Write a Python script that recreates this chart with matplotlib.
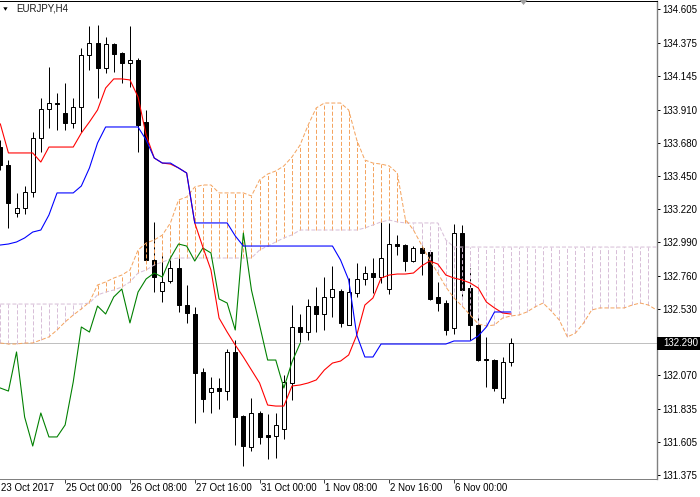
import matplotlib
matplotlib.use("Agg")
import matplotlib.pyplot as plt
from matplotlib.patches import Rectangle, Polygon

plt.rcParams['font.family'] = ['Liberation Sans', 'DejaVu Sans']
plt.rcParams['lines.scale_dashes'] = False

symbol = "EURJPY,H4"

opens = [133.651, 133.527, 133.196, 133.229, 133.339, 133.714, 133.915, 133.949, 133.887, 133.818,
         133.928, 134.289, 134.372, 134.199, 134.365, 134.303, 134.233, 134.254, 133.825, 132.868,
         132.653, 132.723, 132.813, 132.556, 132.494, 132.092, 131.953, 131.981, 131.960, 132.231,
         131.787, 131.572, 131.808, 131.655, 131.649, 131.697, 132.016, 132.404, 132.369, 132.549,
         132.494, 132.612, 132.653, 132.418, 132.640, 132.737, 132.778, 132.750, 132.667, 132.979,
         132.972, 132.861, 132.951, 132.924, 132.612, 132.570, 132.397, 133.055, 132.674, 132.418,
         132.182, 132.175, 131.912, 132.161]
highs = [133.700, 133.561, 133.333, 133.381, 133.755, 133.991, 134.206, 134.026, 134.095, 133.991,
         134.337, 134.490, 134.497, 134.414, 134.372, 134.310, 134.490, 134.268, 133.908, 133.132,
         132.917, 132.868, 132.882, 132.695, 132.542, 132.120, 132.057, 132.050, 132.251, 132.314,
         131.794, 131.912, 131.822, 131.801, 131.808, 132.071, 132.556, 132.494, 132.598, 132.681,
         132.750, 132.827, 132.667, 132.743, 132.847, 132.827, 132.882, 133.132, 133.125, 133.041,
         132.979, 132.965, 132.972, 132.937, 132.716, 132.591, 133.118, 133.111, 132.813, 132.473,
         132.335, 132.182, 132.196, 132.328]
lows = [133.492, 133.090, 133.166, 133.187, 133.305, 133.617, 133.783, 133.769, 133.769, 133.783,
        133.755, 134.185, 133.991, 134.164, 134.171, 134.095, 134.067, 133.617, 132.854, 132.646,
        132.577, 132.709, 132.508, 132.432, 131.739, 131.815, 131.808, 131.836, 131.898, 131.586,
        131.441, 131.545, 131.593, 131.489, 131.496, 131.628, 131.898, 132.300, 132.314, 132.369,
        132.383, 132.473, 132.404, 132.418, 132.612, 132.695, 132.640, 132.709, 132.633, 132.903,
        132.792, 132.854, 132.764, 132.591, 132.515, 132.348, 132.355, 132.612, 132.314, 132.168,
        131.988, 131.960, 131.877, 132.134]
closes = [133.527, 133.263, 133.231, 133.339, 133.714, 133.915, 133.956, 133.946, 133.818, 133.928,
          134.289, 134.372, 134.199, 134.365, 134.296, 134.233, 134.254, 133.804, 132.868, 132.750,
          132.716, 132.813, 132.556, 132.501, 132.085, 131.905, 131.981, 131.960, 132.231, 131.780,
          131.579, 131.808, 131.642, 131.642, 131.725, 132.023, 132.404, 132.369, 132.549, 132.494,
          132.612, 132.667, 132.432, 132.646, 132.737, 132.778, 132.750, 132.882, 132.979, 132.965,
          132.861, 132.951, 132.917, 132.598, 132.570, 132.383, 133.055, 132.660, 132.418, 132.175,
          132.175, 131.981, 132.161, 132.290]

tenkan = [133.811, 133.610, 133.610, 133.610, 133.610, 133.547, 133.651, 133.651, 133.651, 133.651,
          133.748, 133.825, 133.908, 134.060, 134.123, 134.123, 134.116, 133.998, 133.734, 133.575,
          133.540, 133.533, 133.506, 133.471, 133.125, 132.958, 132.799, 132.466, 132.369, 132.279,
          132.196, 132.106, 132.016, 131.863, 131.856, 131.856, 131.995, 132.002, 132.016, 132.037,
          132.106, 132.154, 132.168, 132.210, 132.348, 132.556, 132.605, 132.743, 132.764, 132.771,
          132.771, 132.778, 132.827, 132.861, 132.840, 132.764, 132.743, 132.730, 132.709, 132.674,
          132.577, 132.536, 132.501, 132.494]
kijun = [132.972, 132.979, 132.993, 133.021, 133.062, 133.076, 133.180, 133.333, 133.333, 133.333,
         133.381, 133.506, 133.679, 133.790, 133.790, 133.790, 133.790, 133.790, 133.700, 133.575,
         133.540, 133.540, 133.506, 133.471, 133.125, 133.125, 133.125, 133.125, 133.125, 133.035,
         132.965, 132.965, 132.965, 132.965, 132.965, 132.965, 132.965, 132.965, 132.965, 132.965,
         132.965, 132.965, 132.868, 132.730, 132.348, 132.196, 132.196, 132.286, 132.286, 132.286,
         132.286, 132.286, 132.286, 132.286, 132.286, 132.286, 132.307, 132.307, 132.307, 132.342,
         132.404, 132.508, 132.508, 132.508]
span_a = [132.293, 132.286, 132.286, 132.293, 132.293, 132.314, 132.335, 132.383, 132.439, 132.487,
          132.529, 132.577, 132.695, 132.716, 132.743, 132.764, 132.799, 132.937, 132.986, 133.007,
          133.041, 133.125, 133.284, 133.305, 133.374, 133.388, 133.388, 133.333, 133.333, 133.333,
          133.333, 133.312, 133.423, 133.464, 133.485, 133.520, 133.582, 133.665, 133.804, 133.922,
          133.956, 133.956, 133.956, 133.908, 133.700, 133.561, 133.540, 133.533, 133.520, 133.471,
          133.150, 133.076, 132.972, 132.868, 132.778, 132.681, 132.605, 132.549, 132.487, 132.425,
          132.411, 132.418, 132.466, 132.480, 132.487, 132.508, 132.543, 132.570, 132.515, 132.452,
          132.335, 132.362, 132.432, 132.522, 132.536, 132.536, 132.536, 132.536, 132.556, 132.570,
          132.556, 132.522]
span_b = [132.563] * 11 + [
          132.570, 132.626, 132.646, 132.660, 132.681, 132.716, 132.778, 132.799, 132.834, 132.854,
          132.875] + [132.882] * 10 + [
          132.937, 132.965, 132.993, 133.021, 133.042] + [133.076] * 8 + [
          133.090, 133.111, 133.132, 133.145, 133.132] + [133.125] * 5 + [133.007] + [132.958] * 26

date_pos = [0, 8, 16, 24, 32, 40, 48, 56]
date_labels = ["23 Oct 2017", "25 Oct 00:00", "26 Oct 08:00", "27 Oct 16:00",
               "31 Oct 00:00", "1 Nov 08:00", "2 Nov 16:00", "6 Nov 00:00"]
price_ticks = [134.605, 134.375, 134.145, 133.910, 133.680, 133.450, 133.220, 132.990,
               132.760, 132.530, 132.070, 131.835, 131.605, 131.375]

W, H = 700, 497
PX = 0.72  # one pixel in points at dpi 100
fig = plt.figure(figsize=(W / 100, H / 100), dpi=100)
ax = fig.add_axes([0, (H - 478.5) / H, 656.5 / W, 478 / H])
ax.set_xlim(-0.04, 81.0)
ax.set_ylim(131.354, 134.6665)

SB = '#F4A460'
TH = '#D8BFD8'
dash = (0, (2.9, 1.45))

# bid line
ax.axhline(closes[-1], color='#C0C0C0', lw=PX, zorder=1)

# candles
n = len(opens)
for i in range(n):
    o, h, l, c = opens[i], highs[i], lows[i], closes[i]
    wl = ax.vlines(i, l, h, colors='black', lw=PX, zorder=2)
    wl.set_snap(True)
    bottom = min(o, c)
    height = max(abs(c - o), 1 / 144.3)
    bull = c >= o
    r = Rectangle((i - 0.25, bottom), 0.5, height,
                  facecolor='white' if bull else 'black',
                  edgecolor='black', lw=PX, zorder=3)
    r.set_snap(True)
    ax.add_patch(r)

# cloud
m = len(span_a)
for i in range(m):
    a, b = span_a[i], span_b[i]
    col = SB if a > b else TH
    vl = ax.vlines(i, min(a, b), max(a, b), colors=col, linestyles=dash, lw=PX, zorder=4)
    vl.set_snap(True)
ax.plot(range(m), span_b, color=TH, ls=dash, lw=PX, zorder=4)
ax.plot(range(m), span_a, color=SB, ls=dash, lw=PX, zorder=4)

# chikou (close shifted 26 back)
shift = 26
ax.plot(range(n - shift), closes[shift:], color='#008000', lw=PX * 1.1, zorder=5)
ax.plot(range(n), tenkan, color='#FF0000', lw=PX * 1.1, zorder=5)
ax.plot(range(n), kijun, color='#0000FF', lw=PX * 1.1, zorder=6)

# axes styling
ax.spines['left'].set_visible(False)
ax.spines['top'].set_color('black')
ax.spines['top'].set_linewidth(PX)
ax.spines['right'].set_color('#808080')
ax.spines['right'].set_linewidth(1.0)
ax.spines['bottom'].set_color('#808080')
ax.spines['bottom'].set_linewidth(PX)

ax.yaxis.tick_right()
ax.set_yticks(price_ticks)
ax.set_yticklabels([f"{v:.3f}" for v in price_ticks])
ax.tick_params(axis='y', direction='out', length=2.3, width=PX, colors='black',
               pad=2.2, labelsize=7)
ax.set_xticks(date_pos[1:])
ax.set_xticklabels([])
ax.tick_params(axis='x', direction='out', length=2.9, width=PX, colors='#404040')
for p, lab in zip(date_pos, date_labels):
    ax.text(p + 0.12, -0.0262, lab, transform=ax.get_xaxis_transform(),
            ha='left', va='baseline', fontsize=7, color='black', clip_on=False)

# current price label
fig.patches.append(Rectangle((657 / W, 1 - 350 / H), 43 / W, 13 / H,
                             transform=fig.transFigure, facecolor='black',
                             edgecolor='none', zorder=10))
fig.text(663 / W, 1 - 343.3 / H, f"{closes[-1]:.3f}", color='white', fontsize=7,
         va='center', ha='left', zorder=11)

# title and markers
fig.text(16 / W, 1 - 8.7 / H, symbol, fontsize=7, color='#1a1a1a', va='center', ha='left')
fig.patches.append(Polygon([(3.3 / W, 1 - 7.3 / H), (7.6 / W, 1 - 7.3 / H), (5.45 / W, 1 - 10.8 / H)],
                           closed=True, transform=fig.transFigure, facecolor='black',
                           edgecolor='none'))
fig.patches.append(Polygon([(519.5 / W, 1.0), (527.5 / W, 1.0), (523.5 / W, 1 - 5 / H)],
                           closed=True, transform=fig.transFigure, facecolor='#A0A0A0',
                           edgecolor='none'))

fig.savefig("out.png", dpi=100, facecolor='white')
